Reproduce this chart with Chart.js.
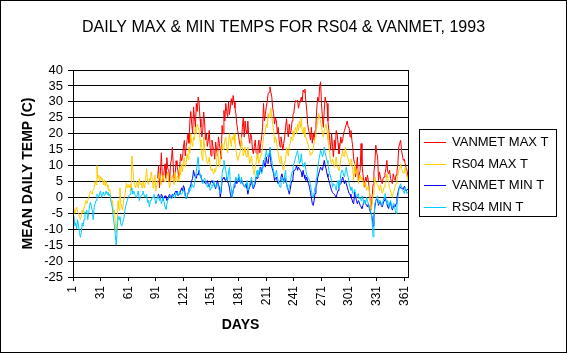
<!DOCTYPE html>
<html>
<head>
<meta charset="utf-8">
<script src="https://cdn.jsdelivr.net/npm/chart.js@4.4.0/dist/chart.umd.min.js"></script>
<style>
  html, body { margin: 0; padding: 0; background: #fff; }
  #wrap { width: 567px; height: 353px; }
</style>
</head>
<body>
<div id="wrap"><canvas id="tempChart" width="567" height="353"></canvas></div>
<script>
// Day ticks on the x axis
const dayTicks = [1, 31, 61, 91, 121, 151, 181, 211, 241, 271, 301, 331, 361];

// RS04 daily max (day 1..365)
const rs04Max = [
  -4, -3.5, -5, -4, -3, -4.5, -5, -6, -7, -6,          // 1-10
  -4, -5, -3, -2, -1, -2, -1, 0, 1, 2,                 // 11-20
  1.5, 1, 2.5, 3, 5, 4, 10, 6, 7, 5,                   // 21-30
  6.5, 5.5, 6, 4, 5.5, 3.5, 5, 4, 3, 2,                // 31-40
  2.5, 0, -2, -1, -5, -4, -8, -11, -7, -1,             // 41-50
  -4, 3, -2, -3, -4, -1, 0, 2, 4.5, 3,                 // 51-60
  4, 3, 4, 2, 13, 9.5, 5, 4, 3, 5,                     // 61-70
  4, 3, 6, 4, 4.5, 3, 5, 4, 3, 6,                      // 71-80
  9, 5, 4, 6, 5, 8, 6, 3, 5, 7,                        // 81-90
  2, 4, 5, 6, 8, 5, 4, 6, 7, 5,                        // 91-100
  5, 6, 7, 8, 5, 3, 5, 6, 7, 5,                        // 101-110
  4, 8, 5, 6, 7, 5, 9.5, 7, 10.5, 8,                   // 111-120
  11.5, 12.5, 9.5, 11, 13.7, 12, 15.8, 14, 20, 17,     // 121-130
  16, 19, 18, 22, 20, 23, 22, 21, 18, 15.8,            // 131-140
  13, 11.6, 19, 16, 13.7, 12, 10.6, 11, 12.7, 10,      // 141-150
  8.5, 9, 8, 7.4, 9, 8, 11, 14.8, 12, 9.5,             // 151-160
  12, 13, 17, 15, 16, 18, 19, 16, 14, 17,              // 161-170
  20, 18, 16, 19, 18, 20, 17, 15, 13, 11.6,            // 171-180
  12.7, 13.7, 14.8, 19, 16, 13, 14, 15.8, 13, 12.7,    // 181-190
  15.8, 13, 10.6, 12, 13, 10, 8.5, 7, 9.5, 11,         // 191-200
  13.7, 12, 10.6, 12, 13, 14, 16, 19, 20, 21,          // 201-210
  23, 22, 26.3, 25, 27, 28, 25.3, 23, 21, 17,          // 211-220
  19, 18, 15, 14, 12, 10.6, 13, 11, 9, 8.5,            // 221-230
  10.6, 12, 15.8, 14, 13, 16, 17, 19, 18, 21,          // 231-240
  19, 21, 22, 20, 23, 21, 24, 22, 25, 21,              // 241-250
  20, 22, 19, 19, 18, 17, 16, 14.8, 13, 14,            // 251-260
  13.7, 15, 17, 19, 21, 22, 24, 26.3, 25, 24,          // 261-270
  22, 20, 19, 21, 22, 23, 21, 18, 16, 13.7,            // 271-280
  11, 10.6, 12, 11, 9.5, 11, 12.7, 10, 9, 8.5,         // 281-290
  10, 12, 13, 14.8, 13, 12.7, 15.8, 14, 13, 12,        // 291-300
  11, 10, 12, 11, 8.5, 5.4, 10.6, 7.4, 8, 9,           // 301-310
  4.3, 6, 7, 5.5, 6.4, 5, 3.2, 4.5, 5, 2.2,            // 311-320
  3, 3.5, 2, -1, -4, -2, 1, 2.5, 6.4, 5,               // 321-330
  4.5, 4, 3.2, 2, 4, 3, 1.2, 2, 3.2, 4.3,              // 331-340
  5, 7.4, 6, 4.3, 3, 2.2, 1, 0, 1.5, 2.2,              // 341-350
  3.5, 4.3, 5.5, 7, 8.5, 9, 10.6, 9, 8.5, 7.4,         // 351-360
  8, 9.5, 7.5, 6.4, 5.3                                // 361-365
];

// RS04 daily min (day 1..365)
const rs04Min = [
  -8, -6, -9, -8, -10, -7, -9, -11, -12.5, -11,        // 1-10
  -8, -9, -7, -4.5, -5, -4, -7, -5, -2.5, -1.5,        // 11-20
  -3, -4, -7, -3, -2, -1, 1, 0.5, 0, 1.5,              // 21-30
  2, 0, 1, 1.7, 0.5, 1, 2, 1, 1.7, 0.5,                // 31-40
  1, -1, -2, -4, -7, -9, -12, -15, -10, -6,            // 41-50
  -7, -6, -8.5, -9, -8, -7, -5, -3, -2, -1,            // 51-60
  0, 0.5, 1, 2, 3, 1, 2, 1, 0.5, 0,                    // 61-70
  1, 2, -1, 0, 0.5, 1, 2, 1, 0, 0.5,                   // 71-80
  1, -1.6, -1, -3, -1, -1, 0, 0, 1, -0.5,              // 81-90
  -2, -1, 0.5, 0, -1, 0, -2, -1, 0, -1.5,              // 91-100
  -3, -3.7, -2, -1, 0, 0.5, 0, -0.5, 0, 1,             // 101-110
  0, 0, 1.5, 1, 0.5, 1, 2, 1, 1, 1.5,                  // 111-120
  2.6, 1.5, 0.5, -0.5, 0, 1.5, 3, 2, 2.5, 4.3,         // 121-130
  3.5, 3, 4, 6.4, 8, 10.6, 12.7, 8.5, 7, 6.4,          // 131-140
  5, 4.3, 5.5, 6, 5.3, 4, 3.2, 4, 4.3, 2.2,            // 141-150
  3, 4, 3.5, 5.3, 4, 3.2, 4, 4.3, 3, 2.2,              // 151-160
  1.2, 3, 7.4, 9, 11.6, 10, 8.5, 6, 5.3, 8,            // 161-170
  9.5, 4, 3, 0, 2, 4.3, 5, 6.4, 5.3, 5,                // 171-180
  7.4, 6, 4.3, 6.4, 5, 4.3, 3.5, 3.2, 4, 5.3,          // 181-190
  2.2, 3, 4.3, 5, 6.4, 4, 3.2, 4.5, 5.3, 7,            // 191-200
  8.5, 6.4, 7.5, 9.5, 8, 7.4, 9, 10.6, 12, 12.7,       // 201-210
  14.8, 13, 12.7, 14, 15.8, 13, 11.6, 9.5, 8.5, 6.4,   // 211-220
  7, 8.5, 6.4, 5.3, 4, 3.2, 5, 6.4, 5.3, 4.3,          // 221-230
  7, 8.5, 4.3, 3, 2.2, 3.2, 4.3, 6.4, 8, 9.5,          // 231-240
  10.6, 11.6, 12.7, 13.7, 14.8, 12.7, 10.6, 11, 13.7, 11, // 241-250
  9.5, 10.6, 11, 8.5, 7, 6.4, 6, 5.3, 4, 2.2,          // 251-260
  0.5, 0, 1.5, 3.2, 5.3, 6.4, 9.5, 11.6, 13, 14.8,     // 261-270
  14, 12.7, 13.5, 15.8, 14, 12.7, 11.6, 10.6, 8.5, 7.4, // 271-280
  6.4, 5.3, 3.2, 4.3, 4, 3.5, 2.2, 4.3, 5.3, 3.2,      // 281-290
  4.3, 7.4, 8.5, 8.5, 7, 6.4, 8.5, 9.5, 7.4, 6.4,      // 291-300
  4.3, 3.2, 2.2, 3.2, 1.2, 1.5, 2.5, 1.2, 0, 0.5,      // 301-310
  1.2, -0.5, 0, -1, 0.5, 0, -2, -1, -2, 0,             // 311-320
  -1, -2, -3, -4, -5, -7.2, -12.4, -7, -2, -1,         // 321-330
  0, 0.5, -2, -1, -1, -2, -2.5, -1, 0, 1.2,            // 331-340
  -0.5, -2, -1, -3, -2, -1, -2.5, -3.5, -2, -2,        // 341-350
  -4, -5, -2, 0, 2.2, 3.5, 4.3, 3.2, 2.2, 2,           // 351-360
  1.2, 3.2, 2.2, 1.2, 1.7                              // 361-365
];

// VANMET record starts on day 93
const vanmetStart = 93;

// VANMET daily max (day 93..365)
const vanmetMax = [
  6, 10, 3, 8, 14, 7, 5, 8.5,                          // 93-100
  10.5, 6, 12.5, 9, 8.4, 5, 10.5, 12, 15.8, 9.5,       // 101-110
  5, 7, 11.5, 10, 8.4, 6, 10, 13.6, 11.5, 12.5,        // 111-120
  15.8, 17.9, 13, 16, 18, 20, 17, 24, 27, 23,          // 121-130
  20, 28.4, 25, 22, 29.5, 27, 31.5, 30, 24.7, 22,      // 131-140
  19, 21, 26.8, 23.7, 18, 20, 16, 18, 21, 15.8,        // 141-150
  13, 18, 16, 14.8, 12, 17.4, 15, 13, 19, 17,          // 151-160
  14.8, 12, 22.6, 20, 27.3, 24, 29.5, 27, 25.3, 30,    // 161-170
  26, 28.4, 31, 29, 32, 30, 28, 26.3, 23, 21,          // 171-180
  19, 17, 15.8, 18, 22, 25, 19, 24, 21, 20,            // 181-190
  24, 19, 17, 20, 19, 15, 13.7, 16, 18, 14,            // 191-200
  13.7, 16, 18, 14, 17, 19, 22, 29.5, 24, 26,          // 201-210
  28.4, 30, 32.6, 33, 34.7, 33, 31.5, 28, 26.3, 23,    // 211-220
  25, 24, 20, 22, 18, 15.8, 19, 17, 14.8, 17,          // 221-230
  19, 22, 24.7, 21, 19, 23, 20, 21, 24, 26,            // 231-240
  26.5, 29.5, 30.5, 30, 30.5, 28, 29.5, 30, 31.5, 30,  // 241-250
  33.7, 33, 34, 30, 27.4, 23, 21, 20, 18, 22,          // 251-260
  17, 20, 18, 21, 23, 28.4, 31.5, 30, 34.7, 36.3,      // 261-270
  29.5, 25, 22, 27.4, 31.5, 30, 29.5, 24, 21, 18,      // 271-280
  14.8, 20, 16, 12.7, 18, 15, 21, 20, 17, 13.7,        // 281-290
  16, 19, 17, 18, 20, 21, 22, 23, 24, 22,              // 291-300
  22, 19, 21, 18, 15.8, 12, 10.6, 6.4, 9, 12.7,        // 301-310
  5.3, 7, 8.5, 16.9, 10, 7.4, 5, 3.2, 6.4, 5,          // 311-320
  7, 5, 2.2, -1, -4, 0, 4, 8, 10.6, 16.4,              // 321-330
  14, 12.7, 5.3, 8, 6.4, 5, 4.3, 6, 6.4, 7.4,          // 331-340
  9, 11.6, 8, 7.4, 8.5, 6, 5, 4.3, 7.4, 6,             // 341-350
  5.3, 7, 8, 10.6, 15.8, 17, 17.9, 14.8, 13, 11.6,     // 351-360
  12, 10.6, 9, 8.5, 6.4                                // 361-365
];

// VANMET daily min (day 93..365)
const vanmetMin = [
  0.5, 1, 0, -0.5, 1, 0.5, -1, 0,                      // 93-100
  0.5, 0, -1, -0.5, 0.5, 1, 0, 0, 1, 0.5,              // 101-110
  1, 1.6, 2, 1, 0.5, 1, 1, 2, 3, 2,                    // 111-120
  3.7, 3, 0.5, -0.5, 0, 1.5, 2.5, 3, 4, 5.3,           // 121-130
  6, 8.5, 7, 6.4, 6, 7.4, 7, 8.5, 7, 6.4,              // 131-140
  5.5, 5.3, 5.3, 4.5, 4.3, 5, 5.3, 4, 3.2, 4.3,        // 141-150
  5, 5.3, 4.5, 4.3, 3.5, 2.7, 4, 5.3, 4, 3.2,          // 151-160
  0, 2, 5.3, 6, 6.4, 5.5, 5.3, 6.4, 5, 4.3,            // 161-170
  3, 1, 0, 0.5, 2, 3.2, 4, 5.3, 4.3, 5,                // 171-180
  6.4, 5, 4.8, 5.3, 4.3, 4, 3.5, 3.2, 4.3, 3,          // 181-190
  1, 2.5, 3.2, 4.3, 5.3, 3.5, 2.7, 3.5, 4.3, 6.4,      // 191-200
  6, 7.4, 7, 8.5, 9.5, 8, 9, 11.6, 10.5, 9.5,          // 201-210
  12.7, 11, 10.6, 13, 15.3, 11, 9.5, 8.5, 7.4, 5.3,    // 211-220
  6, 6.4, 5, 4.3, 5, 5.3, 6.4, 7.4, 6, 5.3,            // 221-230
  6.4, 5, 4.3, 3, 2.2, 1, 2.5, 4.3, 5.3, 6.4,          // 231-240
  8.5, 8.5, 9, 10, 8.5, 9.5, 9, 8.5, 8, 6.4,           // 241-250
  8.5, 7, 6, 5.3, 6.4, 5, 4.3, 3.2, 1.5, 0,            // 251-260
  -2, -2.5, -1, 1.2, 3.2, 4.3, 6.4, 7.4, 8.5, 9.5,     // 261-270
  9, 8.5, 10, 11.6, 10, 9, 7.4, 6.4, 5.3, 4.3,         // 271-280
  3.2, 2.2, 1.5, 1.2, 1, 0.5, 0, 1.2, 2.2, 3.2,        // 281-290
  4, 4.3, 5.3, 6.4, 5.3, 4.3, 5.3, 4.3, 3.2, 2.2,      // 291-300
  1.2, 1, 0, -0.5, -1.6, -2, 1.7, 0.5, -1, -2,         // 301-310
  -1, -1.5, -2.5, -3, -3.5, -2.5, -1.5, -1, -2, -2.5,  // 311-320
  -3, -2, -3.5, -4.6, -5, -6.2, -9, -6, -3, -1,        // 321-330
  -0.5, -1, -2.5, -1.5, -1.5, -2.5, -3, -2, -1, 0,     // 331-340
  -1, -2, -3, -3.5, -2, -1.5, -3, -4, -3, -2.5,        // 341-350
  -3, -2, 0, 1.5, 2.7, 3.5, 3, 2.7, 3, 2.5,            // 351-360
  3.5, 3, 2, 2.5, 2.5                                  // 361-365
];

const seriesNames = ["VANMET MAX T", "RS04 MAX T", "VANMET MIN T", "RS04 MIN T"];
const seriesColors = ["#FF0000", "#FFCC00", "#0000FF", "#00CCFF"];

const FONT = "'Liberation Sans', Arial, sans-serif";

const toPoints = (arr, start) => arr.map((v, i) => ({ x: start + i, y: v }));

// Frame around the plot area, outer border and the boxed legend
const framePlugin = {
  id: "frame",
  beforeDraw(chart) {
    const ctx = chart.ctx;
    ctx.save();
    ctx.fillStyle = "#fff";
    ctx.fillRect(0, 0, chart.width, chart.height);
    ctx.restore();
  },
  afterDraw(chart) {
    const { ctx, chartArea } = chart;
    ctx.save();
    ctx.strokeStyle = "#000";
    ctx.lineWidth = 1;
    ctx.strokeRect(0.5, 0.5, chart.width - 1, chart.height - 1);
    ctx.strokeRect(
      Math.round(chartArea.left) + 0.5,
      Math.round(chartArea.top) + 0.5,
      Math.round(chartArea.right - chartArea.left),
      Math.round(chartArea.bottom - chartArea.top)
    );

    // legend box
    ctx.strokeRect(419.5, 129.5, 137, 87);
    ctx.font = "13px " + FONT;
    ctx.textBaseline = "middle";
    ctx.textAlign = "left";
    chart.data.datasets.forEach((ds, i) => {
      const y = Math.round(142 + i * 21.7) + 0.5;
      ctx.strokeStyle = ds.borderColor;
      ctx.beginPath();
      ctx.moveTo(424, y);
      ctx.lineTo(446, y);
      ctx.stroke();
      ctx.fillStyle = "#000";
      ctx.fillText(ds.label, 452, y);
    });
    ctx.restore();
  },
};

const chartCtx = document.getElementById("tempChart").getContext("2d");

new Chart(chartCtx, {
  type: "line",
  data: {
    datasets: [
      { label: seriesNames[0], data: toPoints(vanmetMax, vanmetStart), borderColor: seriesColors[0], order: 4 },
      { label: seriesNames[1], data: toPoints(rs04Max, 1), borderColor: seriesColors[1], order: 3 },
      { label: seriesNames[2], data: toPoints(vanmetMin, vanmetStart), borderColor: seriesColors[2], order: 2 },
      { label: seriesNames[3], data: toPoints(rs04Min, 1), borderColor: seriesColors[3], order: 1 },
    ],
  },
  options: {
    responsive: false,
    animation: false,
    devicePixelRatio: 1,
    layout: { padding: 0 },
    elements: {
      line: { borderWidth: 1, tension: 0 },
      point: { radius: 0 },
    },
    plugins: {
      legend: { display: false },
      tooltip: { enabled: false },
      title: {
        display: true,
        text: "DAILY MAX & MIN TEMPS FOR RS04 & VANMET, 1993",
        color: "#000",
        font: { family: FONT, size: 16, weight: "normal" },
        padding: { top: 18.4, bottom: 32.4 },
      },
    },
    scales: {
      x: {
        type: "linear",
        min: 1,
        max: 365,
        afterBuildTicks: (axis) => {
          axis.ticks = dayTicks.map((v) => ({ value: v }));
        },
        afterFit: (scale) => {
          scale.height = 76;
        },
        border: { display: true, color: "#000" },
        grid: { drawOnChartArea: false, drawTicks: true, tickLength: 4, color: "#000" },
        ticks: {
          color: "#000",
          font: { family: FONT, size: 12 },
          minRotation: 90,
          maxRotation: 90,
          autoSkip: false,
          padding: 5,
        },
        title: {
          display: true,
          text: "DAYS",
          color: "#000",
          font: { family: FONT, size: 14, weight: "bold" },
          padding: { top: 2, bottom: 19.6 },
        },
      },
      y: {
        min: -25,
        max: 40,
        afterFit: (scale) => {
          scale.width = 73;
        },
        border: { display: true, color: "#000" },
        grid: { color: "#000", lineWidth: 1, drawTicks: true, tickLength: 5 },
        ticks: {
          stepSize: 5,
          autoSkip: false,
          color: "#000",
          font: { family: FONT, size: 13 },
          padding: 5,
        },
        title: {
          display: true,
          text: "MEAN DAILY TEMP (C)",
          color: "#000",
          font: { family: FONT, size: 14, weight: "bold" },
          padding: { top: 19.6, bottom: 0 },
        },
      },
      // empty space on the right that holds the legend
      legendSpace: {
        type: "linear",
        position: "right",
        display: true,
        grid: { display: false },
        border: { display: false },
        ticks: { display: false },
        afterFit: (scale) => {
          scale.width = 159;
        },
      },
    },
  },
  plugins: [framePlugin],
});
</script>
</body>
</html>
